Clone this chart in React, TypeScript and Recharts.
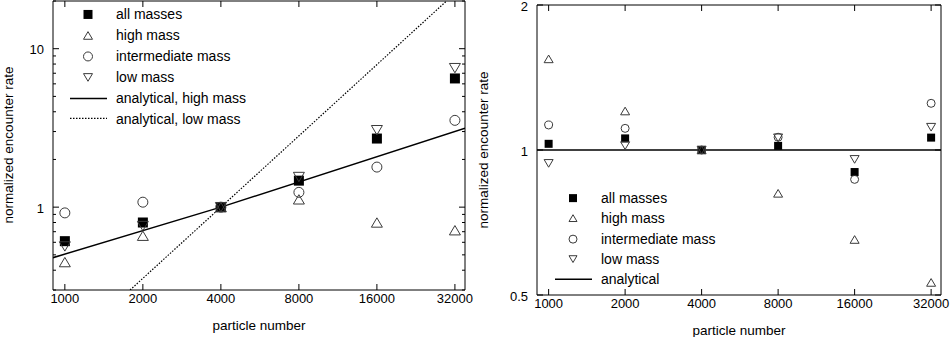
import React from 'react';
import { ComposedChart, Scatter, Line, XAxis, YAxis, ReferenceArea, Label } from 'recharts';

const particleNumbers = [1000, 2000, 4000, 8000, 16000, 32000];
const xTicks = [1000, 2000, 4000, 8000, 16000, 32000];

// left panel: encounter rate normalized to N = 4000
const rateAll = [0.61, 0.8, 1.0, 1.47, 2.71, 6.49];
const rateHigh = [0.45, 0.66, 1.0, 1.12, 0.8, 0.715];
const rateInter = [0.92, 1.075, 1.0, 1.24, 1.79, 3.53];
const rateLow = [0.565, 0.76, 1.0, 1.55, 3.06, 7.54];

const analyticHighX = [900, 4000, 35000];
const analyticHighY = [0.48, 1, 3.15];
const analyticLowX = [1785, 4000, 29700];
const analyticLowY = [0.3, 1, 20];

const leftYTicks = [0.3, 0.4, 0.5, 0.6, 0.7, 0.8, 0.9, 1, 2, 3, 4, 5, 6, 7, 8, 9, 10, 20];
const leftYLabels = [1, 10];

// right panel: rate relative to the analytical estimate
const ratioAll = [1.03, 1.057, 1.0, 1.02, 0.9, 1.061];
const ratioHigh = [1.546, 1.205, 1.0, 0.813, 0.652, 0.531];
const ratioInter = [1.127, 1.109, 1.0, 1.063, 0.869, 1.25];
const ratioLow = [0.938, 1.021, 1.0, 1.06, 0.956, 1.115];
const ratioAnalyticX = [900, 35000];
const ratioAnalyticY = [1, 1];

const rightYTicks = [0.5, 1, 2];
const rightYLabels = [0.5, 1, 2];

const FONT = '"Liberation Sans", Arial, Helvetica, sans-serif';
const MARK = '#3a3a3a';

const pts = (xs: number[], ys: number[]) => xs.map((x, i) => ({ x, y: ys[i] }));

type Kind = 'square' | 'up' | 'circle' | 'down' | 'solid' | 'dotted';

const Marker = ({ kind, cx, cy, s }: { kind: Kind; cx: number; cy: number; s: number }) => {
  if (kind === 'square') return <rect x={cx - s / 2} y={cy - s / 2} width={s} height={s} fill="#000" />;
  if (kind === 'circle') return <circle cx={cx} cy={cy} r={s / 2} fill="none" stroke={MARK} strokeWidth={1} />;
  const h = s * 0.85;
  if (kind === 'up')
    return (
      <polygon
        points={`${cx - s / 2},${cy + h / 2} ${cx + s / 2},${cy + h / 2} ${cx},${cy - h / 2}`}
        fill="none"
        stroke={MARK}
        strokeWidth={1}
      />
    );
  if (kind === 'down')
    return (
      <polygon
        points={`${cx - s / 2},${cy - h / 2} ${cx + s / 2},${cy - h / 2} ${cx},${cy + h / 2}`}
        fill="none"
        stroke={MARK}
        strokeWidth={1}
      />
    );
  return null;
};

const shapeOf = (kind: Kind, s: number) => (p: any) => <Marker kind={kind} cx={p.cx} cy={p.cy} s={s} />;

interface Geo {
  left: number;
  right: number;
  top: number;
  bottom: number;
}

const makeXTick = (g: Geo) => (props: any) => {
  const { x, payload } = props;
  return (
    <g>
      <line x1={x} x2={x} y1={g.bottom} y2={g.bottom - 6} stroke="#000" />
      <line x1={x} x2={x} y1={g.top} y2={g.top + 6} stroke="#000" />
      <text x={x} y={g.bottom + 13} textAnchor="middle" fontSize={13} fontFamily={FONT} fill="#000">
        {payload.value}
      </text>
    </g>
  );
};

const makeYTick = (g: Geo, labels: number[], minorLen: number) => (props: any) => {
  const { y, payload } = props;
  const major = labels.includes(payload.value);
  const len = major ? 6 : minorLen;
  return (
    <g>
      <line x1={g.left} x2={g.left + len} y1={y} y2={y} stroke="#000" />
      <line x1={g.right} x2={g.right - len} y1={y} y2={y} stroke="#000" />
      {major && (
        <text x={g.left - 9} y={y + 5.5} textAnchor="end" fontSize={13} fontFamily={FONT} fill="#000">
          {payload.value}
        </text>
      )}
    </g>
  );
};

interface LegendItem {
  label: string;
  kind: Kind;
}

const LegendRows = ({ items, rowH, s, left, top }: { items: LegendItem[]; rowH: number; s: number; left: number; top: number }) => (
  <div style={{ position: 'absolute', left, top, fontFamily: FONT, fontSize: 14, color: '#000', pointerEvents: 'none' }}>
    {items.map((it) => (
      <div key={it.label} style={{ display: 'flex', alignItems: 'center', height: rowH }}>
        <svg width={50} height={rowH} style={{ display: 'block' }}>
          {it.kind === 'solid' || it.kind === 'dotted' ? (
            <line
              x1={4}
              x2={41}
              y1={rowH / 2}
              y2={rowH / 2}
              stroke="#000"
              strokeWidth={it.kind === 'solid' ? 1.5 : 1.2}
              strokeDasharray={it.kind === 'dotted' ? '1.5 1.5' : undefined}
            />
          ) : (
            <Marker kind={it.kind} cx={22} cy={rowH / 2} s={s} />
          )}
        </svg>
        <span style={{ whiteSpace: 'nowrap' }}>{it.label}</span>
      </div>
    ))}
  </div>
);

const leftLegend: LegendItem[] = [
  { label: 'all masses', kind: 'square' },
  { label: 'high mass', kind: 'up' },
  { label: 'intermediate mass', kind: 'circle' },
  { label: 'low mass', kind: 'down' },
  { label: 'analytical, high mass', kind: 'solid' },
  { label: 'analytical, low mass', kind: 'dotted' },
];

const rightLegend: LegendItem[] = [
  { label: 'all masses', kind: 'square' },
  { label: 'high mass', kind: 'up' },
  { label: 'intermediate mass', kind: 'circle' },
  { label: 'low mass', kind: 'down' },
  { label: 'analytical', kind: 'solid' },
];

const leftGeo: Geo = { left: 53, right: 465, top: 1, bottom: 290 };
const rightGeo: Geo = { left: 67, right: 471, top: 5, bottom: 295 };

const App = () => {
  return (
    <div style={{ position: 'absolute', left: 0, top: 0, width: 951, height: 337, background: '#fff', fontFamily: FONT }}>
      <div style={{ position: 'absolute', left: 0, top: 0 }}>
        <ComposedChart width={480} height={337} margin={{ top: 1, right: 15, bottom: 0, left: 0 }}>
          <XAxis
            dataKey="x"
            type="number"
            scale="log"
            domain={[900, 35000]}
            allowDataOverflow
            ticks={xTicks}
            interval={0}
            height={47}
            axisLine={false}
            tickLine={false}
            tick={makeXTick(leftGeo)}
          >
            <Label
              content={() => (
                <text x={259} y={330} textAnchor="middle" fontSize={13.5} fontFamily={FONT} fill="#000">
                  particle number
                </text>
              )}
            />
          </XAxis>
          <YAxis
            dataKey="y"
            type="number"
            scale="log"
            domain={[0.3, 20]}
            allowDataOverflow
            ticks={leftYTicks}
            interval={0}
            width={53}
            axisLine={false}
            tickLine={false}
            tick={makeYTick(leftGeo, leftYLabels, 3)}
          >
            <Label
              content={() => (
                <text
                  x={8}
                  y={145}
                  transform="rotate(-90 8 145)"
                  textAnchor="middle"
                  dominantBaseline="central"
                  fontSize={13.5}
                  fontFamily={FONT}
                  fill="#000"
                >
                  normalized encounter rate
                </text>
              )}
            />
          </YAxis>
          <ReferenceArea x1={900} x2={35000} y1={0.3} y2={20} fill="none" stroke="#000" strokeWidth={1} />
          <Line data={pts(analyticHighX, analyticHighY)} dataKey="y" type="linear" dot={false} stroke="#000" strokeWidth={1.5} isAnimationActive={false} />
          <Line
            data={pts(analyticLowX, analyticLowY)}
            dataKey="y"
            type="linear"
            dot={false}
            stroke="#000"
            strokeWidth={1.2}
            strokeDasharray="1.5 1.5"
            isAnimationActive={false}
          />
          <Scatter data={pts(particleNumbers, rateAll)} shape={shapeOf('square', 10)} isAnimationActive={false} />
          <Scatter data={pts(particleNumbers, rateHigh)} shape={shapeOf('up', 11)} isAnimationActive={false} />
          <Scatter data={pts(particleNumbers, rateInter)} shape={shapeOf('circle', 10)} isAnimationActive={false} />
          <Scatter data={pts(particleNumbers, rateLow)} shape={shapeOf('down', 11)} isAnimationActive={false} />
        </ComposedChart>
        <LegendRows items={leftLegend} rowH={20.9} s={9} left={66} top={4} />
      </div>
      <div style={{ position: 'absolute', left: 470, top: 0 }}>
        <ComposedChart width={481} height={337} margin={{ top: 5, right: 10, bottom: 0, left: 0 }}>
          <XAxis
            dataKey="x"
            type="number"
            scale="log"
            domain={[900, 35000]}
            allowDataOverflow
            ticks={xTicks}
            interval={0}
            height={42}
            axisLine={false}
            tickLine={false}
            tick={makeXTick(rightGeo)}
          >
            <Label
              content={() => (
                <text x={269} y={335} textAnchor="middle" fontSize={13.5} fontFamily={FONT} fill="#000">
                  particle number
                </text>
              )}
            />
          </XAxis>
          <YAxis
            dataKey="y"
            type="number"
            scale="log"
            domain={[0.5, 2]}
            allowDataOverflow
            ticks={rightYTicks}
            interval={0}
            width={67}
            axisLine={false}
            tickLine={false}
            tick={makeYTick(rightGeo, rightYLabels, 3)}
          >
            <Label
              content={() => (
                <text
                  x={13}
                  y={150}
                  transform="rotate(-90 13 150)"
                  textAnchor="middle"
                  dominantBaseline="central"
                  fontSize={13.5}
                  fontFamily={FONT}
                  fill="#000"
                >
                  normalized encounter rate
                </text>
              )}
            />
          </YAxis>
          <ReferenceArea x1={900} x2={35000} y1={0.5} y2={2} fill="none" stroke="#000" strokeWidth={1} />
          <Line data={pts(ratioAnalyticX, ratioAnalyticY)} dataKey="y" type="linear" dot={false} stroke="#000" strokeWidth={1.5} isAnimationActive={false} />
          <Scatter data={pts(particleNumbers, ratioAll)} shape={shapeOf('square', 8)} isAnimationActive={false} />
          <Scatter data={pts(particleNumbers, ratioHigh)} shape={shapeOf('up', 9)} isAnimationActive={false} />
          <Scatter data={pts(particleNumbers, ratioInter)} shape={shapeOf('circle', 8)} isAnimationActive={false} />
          <Scatter data={pts(particleNumbers, ratioLow)} shape={shapeOf('down', 9)} isAnimationActive={false} />
        </ComposedChart>
        <LegendRows items={rightLegend} rowH={20.25} s={8} left={81} top={188} />
      </div>
    </div>
  );
};

export default App;
